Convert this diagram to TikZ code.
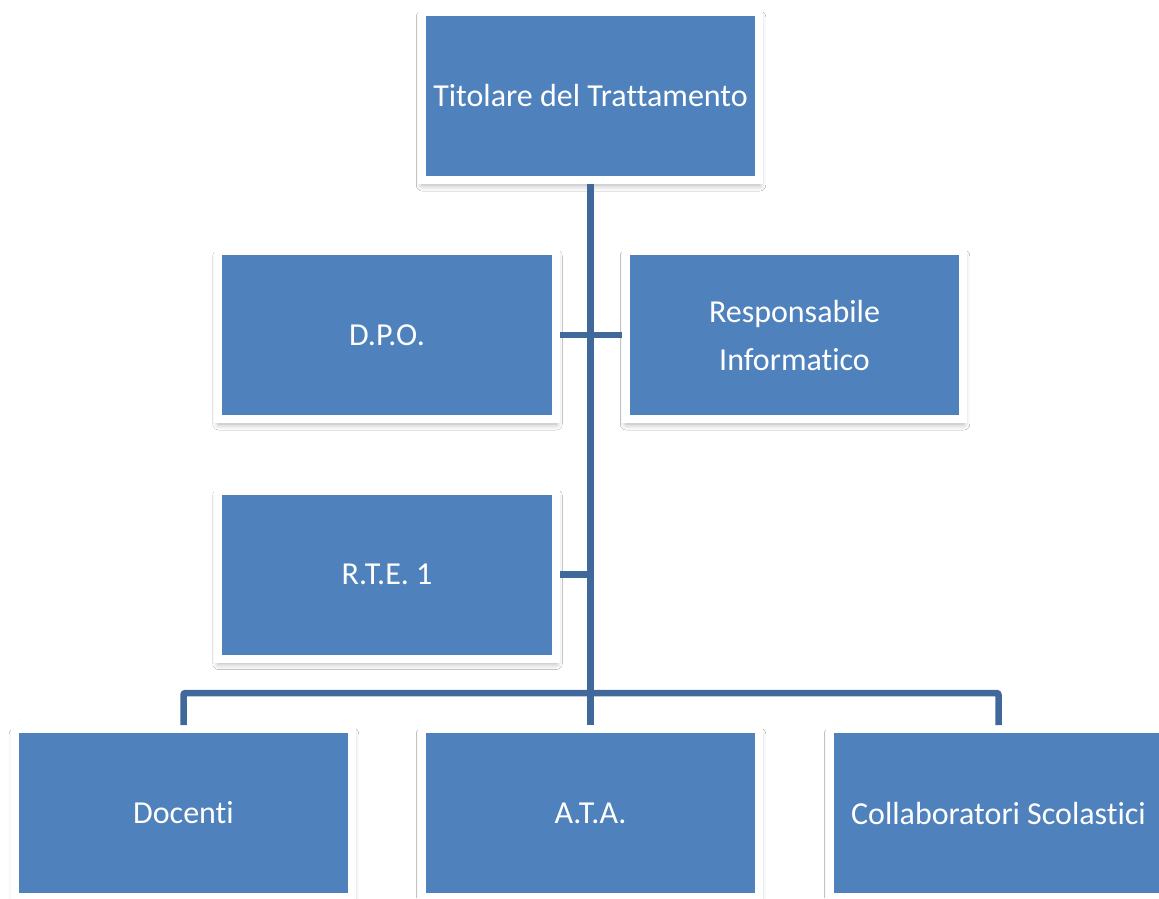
\documentclass[tikz,border=0pt]{standalone}
\usepackage{fontspec}
\setmainfont{Carlito}[Ligatures=NoCommon]
\usetikzlibrary{shadows.blur}
\definecolor{boxblue}{HTML}{4F81BD}
\definecolor{linkblue}{HTML}{41689A}
\tikzset{
  orgbox/.style={rectangle, fill=boxblue, draw=white, line width=8pt,
    minimum width=337.5pt, minimum height=168pt, inner sep=0pt,
    text=white, align=center, font=\fontsize{32}{48}\selectfont,
    blur shadow={shadow xshift=0.5pt, shadow yshift=-5pt, shadow blur radius=6pt, shadow opacity=35}},
  link/.style={draw=linkblue, line width=6.5pt}
}
\begin{document}
\begin{tikzpicture}[x=1pt,y=-1pt]
\useasboundingbox (0,0) rectangle (1159,898);
\clip (0,0) rectangle (1159,898);
\fill[white] (0,0) rectangle (1159,898);
\node[orgbox] (top) at (590.5,96) {Titolare del Trattamento};
\node[orgbox] (dpo) at (387,335) {D.P.O.};
\node[orgbox] (resp) at (794.5,335) {Responsabile\\Informatico};
\node[orgbox] (rte) at (387,574.5) {R.T.E. 1};
\node[orgbox] (doc) at (183.5,813) {Docenti};
\node[orgbox] (ata) at (590.5,813) {A.T.A.};
\node[orgbox] (col) at (998.5,813) {Collaboratori Scolastici};
\coordinate (bus) at (591,693);
\draw[link] (top.south) -- (ata.north);
\draw[link] (dpo.east) -- (dpo.east -| top.south);
\draw[link] (resp.west) -- (resp.west -| top.south);
\draw[link] (rte.east) -- (rte.east -| top.south);
\draw[link, rounded corners=2pt] (doc.north) |- (bus) -| (col.north);
\end{tikzpicture}
\end{document}
